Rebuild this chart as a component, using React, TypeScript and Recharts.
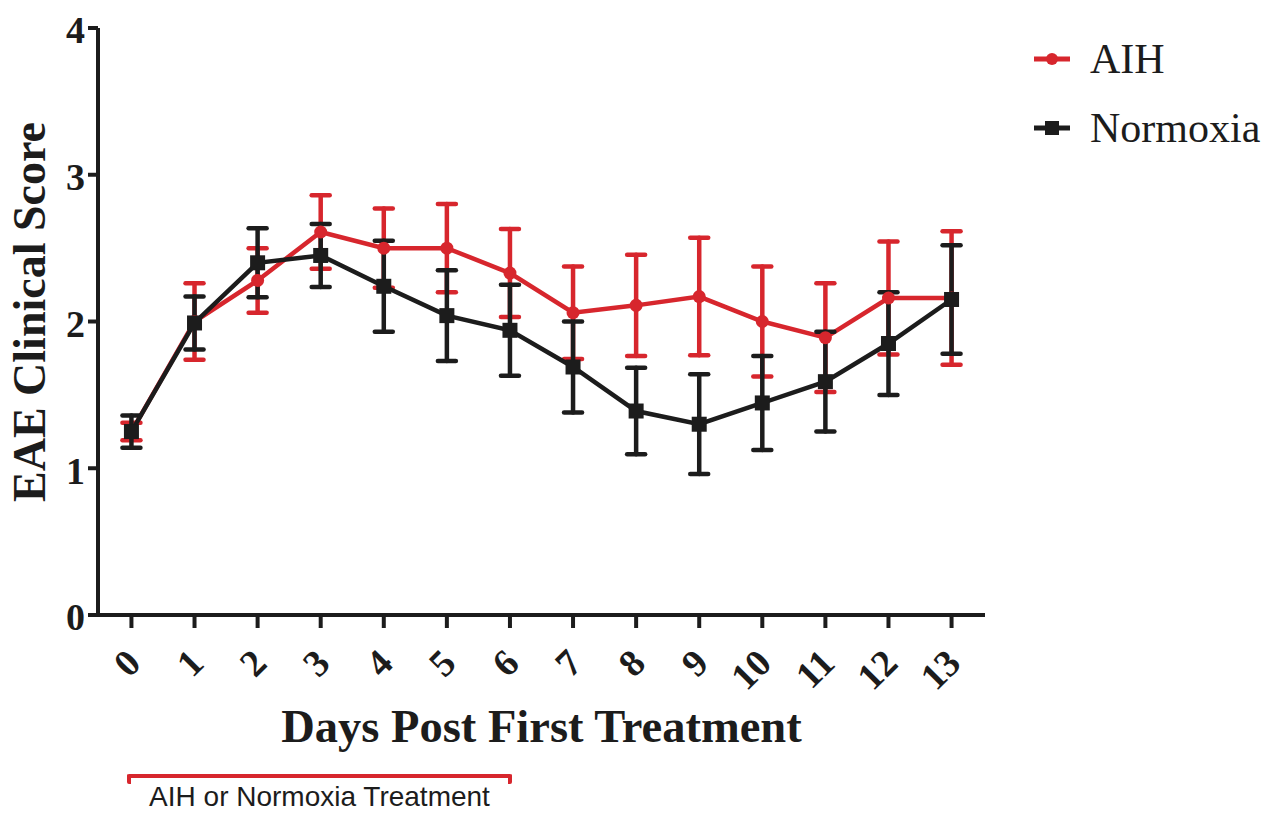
import { LineChart, Line, XAxis, YAxis, ErrorBar, Legend } from "recharts"

const days = [0, 1, 2, 3, 4, 5, 6, 7, 8, 9, 10, 11, 12, 13]
const aihMean = [1.25, 2.0, 2.28, 2.61, 2.5, 2.5, 2.33, 2.06, 2.11, 2.17, 2.0, 1.89, 2.16, 2.16]
const aihSem = [0.06, 0.26, 0.22, 0.25, 0.27, 0.3, 0.3, 0.315, 0.345, 0.4, 0.375, 0.37, 0.385, 0.455]
const normoxiaMean = [1.25, 1.99, 2.4, 2.45, 2.24, 2.04, 1.94, 1.69, 1.39, 1.3, 1.445, 1.59, 1.85, 2.15]
const normoxiaSem = [0.11, 0.18, 0.235, 0.215, 0.31, 0.31, 0.31, 0.31, 0.295, 0.34, 0.32, 0.34, 0.35, 0.37]
const scoreTicks = [0, 1, 2, 3, 4]

const RED = "#d7262d"
const BLACK = "#1c1c1c"
const SERIF = "'Liberation Serif', 'Times New Roman', serif"
const SANS = "'Liberation Sans', Arial, sans-serif"

const data = days.map((day, i) => ({
  day,
  aih: aihMean[i],
  aihErr: aihSem[i],
  normoxia: normoxiaMean[i],
  normoxiaErr: normoxiaSem[i],
}))

function DayTick(props: any) {
  const { x, payload } = props
  const ax = x + 2
  const ay = 656
  return (
    <text
      x={ax}
      y={ay}
      transform={`rotate(-45 ${ax} ${ay})`}
      textAnchor="end"
      dominantBaseline="central"
      fontFamily={SERIF}
      fontWeight="bold"
      fontSize={38}
      fill={BLACK}
    >
      {payload.value}
    </text>
  )
}

function SquareDot(props: any) {
  const { cx, cy } = props
  return <rect x={cx - 7.5} y={cy - 7.5} width={15} height={15} fill={BLACK} />
}

function LegendBox(props: any) {
  const items = props.payload || []
  return (
    <div>
      {items.map((entry: any) => {
        const isAih = entry.value === "AIH"
        return (
          <div key={entry.value} style={{ display: "flex", alignItems: "center", height: 69 }}>
            <svg width={40} height={20}>
              <line x1={2} y1={10} x2={38} y2={10} stroke={entry.color} strokeWidth={5} />
              {isAih ? (
                <circle cx={20} cy={10} r={6} fill={entry.color} />
              ) : (
                <rect x={13} y={3} width={14} height={14} fill={entry.color} />
              )}
            </svg>
            <span style={{ marginLeft: 18, fontFamily: SERIF, fontSize: 42, color: BLACK }}>
              {entry.value}
            </span>
          </div>
        )
      })}
    </div>
  )
}

export default function App() {
  return (
    <div style={{ position: "absolute", left: 0, top: 0, width: 1268, height: 814, background: "#fff", overflow: "hidden" }}>
      <LineChart
        width={1268}
        height={814}
        data={data}
        margin={{ top: 28, right: 283, bottom: 139, left: 38 }}
      >
        <XAxis
          dataKey="day"
          type="number"
          domain={[-0.53, 13.53]}
          ticks={days}
          interval={0}
          height={60}
          axisLine={{ stroke: BLACK, strokeWidth: 4 }}
          tickLine={{ stroke: BLACK, strokeWidth: 4 }}
          tickSize={13}
          tick={<DayTick />}
          label={{
            content: (p: any) => (
              <text
                x={p.viewBox.x + p.viewBox.width / 2}
                y={742}
                textAnchor="middle"
                fontFamily={SERIF}
                fontWeight="bold"
                fontSize={46.5}
                fill={BLACK}
              >
                Days Post First Treatment
              </text>
            ),
          }}
        />
        <YAxis
          type="number"
          domain={[0, 4]}
          ticks={scoreTicks}
          width={60}
          axisLine={{ stroke: BLACK, strokeWidth: 4 }}
          tickLine={{ stroke: BLACK, strokeWidth: 4 }}
          tickSize={10}
          tickMargin={3}
          tick={{ fontFamily: SERIF, fontWeight: "bold", fontSize: 38, fill: BLACK, dy: 2 }}
          label={{
            content: () => (
              <text
                x={45}
                y={312}
                transform="rotate(-90 45 312)"
                textAnchor="middle"
                fontFamily={SERIF}
                fontWeight="bold"
                fontSize={46}
                fill={BLACK}
              >
                EAE Clinical Score
              </text>
            ),
          }}
        />
        <Legend
          verticalAlign="middle"
          layout="horizontal"
          wrapperStyle={{ position: "absolute", left: 1032, top: 24, width: 236, height: 140 }}
          content={<LegendBox />}
        />
        <Line
          dataKey="aih"
          name="AIH"
          stroke={RED}
          strokeWidth={4.5}
          dot={{ r: 6.5, fill: RED, stroke: RED, strokeWidth: 0 }}
          isAnimationActive={false}
        >
          <ErrorBar dataKey="aihErr" width={9} stroke={RED} strokeWidth={4.5} strokeLinecap="round" />
        </Line>
        <Line
          dataKey="normoxia"
          name="Normoxia"
          stroke={BLACK}
          strokeWidth={4.5}
          dot={<SquareDot />}
          isAnimationActive={false}
        >
          <ErrorBar dataKey="normoxiaErr" width={9} stroke={BLACK} strokeWidth={4.5} strokeLinecap="round" />
        </Line>
      </LineChart>
      <div
        style={{
          position: "absolute",
          left: 127,
          top: 774,
          width: 377,
          height: 6,
          borderTop: `4px solid ${RED}`,
          borderLeft: `4px solid ${RED}`,
          borderRight: `4px solid ${RED}`,
          borderRadius: 2,
        }}
      />
      <div
        style={{
          position: "absolute",
          left: 117,
          top: 784,
          width: 405,
          height: 26,
          textAlign: "center",
          fontFamily: SANS,
          fontSize: 28,
          lineHeight: "26px",
          color: BLACK,
          whiteSpace: "nowrap",
        }}
      >
        AIH or Normoxia Treatment
      </div>
    </div>
  )
}
